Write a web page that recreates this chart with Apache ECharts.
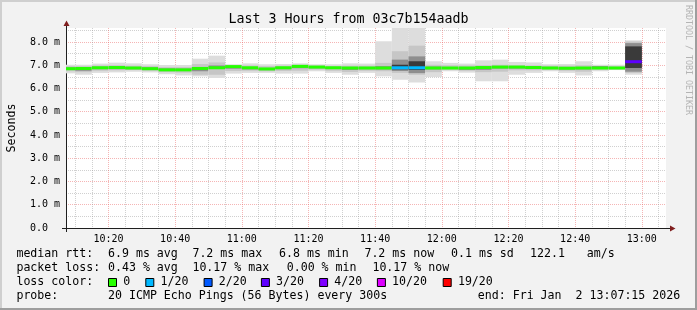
<!DOCTYPE html>
<html><head><meta charset="utf-8">
<script src="https://cdn.jsdelivr.net/npm/echarts@6/dist/echarts.min.js"></script>
<style>html,body{margin:0;padding:0;background:#f2f2f2}#c{width:697px;height:310px}</style>
</head><body><div id="c"></div>
<script>
// ---------------- data ----------------
const titleText = 'Last 3 Hours from 03c7b154aadb';
const yAxisName = 'Seconds';
const watermark = 'RRDTOOL / TOBI OETIKER';
const windowStart = '10:07:15';
const windowEnd = '13:07:15';
const stepMinutes = 5;

// end time of each 300 s RRD step
const barEnd = ['10:10','10:15','10:20','10:25','10:30','10:35','10:40','10:45','10:50','10:55',
  '11:00','11:05','11:10','11:15','11:20','11:25','11:30','11:35','11:40','11:45',
  '11:50','11:55','12:00','12:05','12:10','12:15','12:20','12:25','12:30','12:35',
  '12:40','12:45','12:50','12:55','13:00'];
// median rtt (ms)
const medianRtt = [6.85,6.86,6.89,6.90,6.88,6.85,6.80,6.80,6.86,6.89,
  6.94,6.89,6.84,6.89,6.95,6.92,6.89,6.88,6.88,6.88,
  6.89,6.89,6.88,6.88,6.88,6.90,6.92,6.92,6.90,6.88,
  6.87,6.88,6.88,6.88,7.15];
// lost pings per step -> index into lossColors
const lossIdx = [0,0,0,0,0,0,0,0,0,0, 0,0,0,0,0,0,0,0,0,0, 1,1,0,0,0,0,0,0,0,0, 0,0,0,0,3];
// smoke layers (ms), outermost = min/max ping
const smoke1Lo = [6.65,6.59,6.67,6.69,6.72,6.69,6.61,6.56,6.52,6.45, 6.64,6.67,6.67,6.64,6.64,6.74,6.67,6.59,6.67,6.52, 6.38,6.26,6.49,6.74,6.68,6.31,6.31,6.59,6.67,6.74, 6.67,6.56,6.74,6.79,6.59];
const smoke1Hi = [7.02,7.02,7.07,7.11,7.08,7.04,7.01,7.01,7.28,7.41, 7.04,7.08,7.04,7.05,7.08,7.04,7.04,7.08,7.07,8.03, 8.60,8.60,7.17,7.10,7.07,7.21,7.24,7.14,7.12,7.04, 7.05,7.17,7.02,7.02,8.07];
const smoke2Lo = [6.74,6.70,6.76,6.78,6.79,6.76,6.70,6.68,6.59,6.59, 6.75,6.76,6.74,6.75,6.76,6.81,6.76,6.71,6.76,6.74, 6.67,6.59,6.70,6.80,6.76,6.70,6.72,6.78,6.78,6.80, 6.76,6.72,6.80,6.82,6.67];
const smoke2Hi = [6.96,6.95,6.99,7.00,6.98,6.96,6.92,6.92,7.05,7.12, 7.00,6.99,6.96,6.98,7.02,6.99,6.97,6.98,6.98,7.10, 7.60,7.84,7.02,7.00,6.99,7.00,7.02,7.00,6.99,6.98, 6.98,7.00,6.97,6.96,8.02];
const smoke3Lo = [6.80,6.76,6.83,6.83,6.83,6.80,6.78,6.75,6.74,6.84, 6.85,6.82,6.79,6.83,6.87,6.87,6.84,6.80,6.83,6.82, 6.75,6.66,6.82,6.84,6.80,6.80,6.86,6.86,6.85,6.84, 6.82,6.82,6.86,6.85,6.72];
const smoke3Hi = [6.90,6.88,6.93,6.91,6.92,6.90,6.86,6.85,6.89,6.99, 6.96,6.91,6.88,6.92,7.01,6.95,6.92,6.89,6.92,6.96, 7.24,7.38,6.94,6.92,6.90,6.91,6.96,6.96,6.94,6.92, 6.90,6.92,6.96,6.92,7.95];
const smoke4Lo = [null,null,null,null,null,null,null,null,null,null, null,null,null,null,null,null,null,null,null,null, 6.82,6.80,null,null,null,null,null,null,null,null, null,null,null,null,6.88];
const smoke4Hi = [null,null,null,null,null,null,null,null,null,null, null,null,null,null,null,null,null,null,null,null, 7.02,7.17,null,null,null,null,null,null,null,null, null,null,null,null,7.81];

const xTickLabels = ['10:20','10:40','11:00','11:20','11:40','12:00','12:20','12:40','13:00'];
const xMinorTicks = ['10:10','10:15','10:25','10:30','10:35','10:45','10:50','10:55','11:05','11:10','11:15',
  '11:25','11:30','11:35','11:45','11:50','11:55','12:05','12:10','12:15','12:25','12:30','12:35',
  '12:45','12:50','12:55','13:05'];
const yTickValues = [0,1,2,3,4,5,6,7,8];
const yMinorValues = [0.5,1.5,2.5,3.5,4.5,5.5,6.5,7.5,8.5];
const yMax = 8.6;

const lossLabels = ['0','1/20','2/20','3/20','4/20','10/20','19/20'];
const lossColors = ['#26ff00','#00b8ff','#0059ff','#5e00ff','#7e00ff','#dd00ff','#ff0000'];

const rowRtt = ['median rtt:','6.9 ms avg','7.2 ms max','6.8 ms min','7.2 ms now','0.1 ms sd','122.1','am/s'];
const rowLoss = ['packet loss:','0.43 % avg','10.17 % max','0.00 % min','10.17 % now'];
const rowLossColorHead = 'loss color:';
const rowProbe = ['probe:','20 ICMP Echo Pings (56 Bytes) every 300s','end: Fri Jan  2 13:07:15 2026'];

// ---------------- layout (positions only) ----------------
const rowRttX = [16.4,108,192.4,279,364.4,451,530,586.7];
const rowLossX = [16.4,108,192.4,286.7,372.4];
const rowProbeX = [16.4,108,477.8];
const lossBoxX = [108,145.3,203.6,260.9,319.1,376.9,442.7];
const rowY = [254,268,282,296];
const MONO = '"DejaVu Sans Mono", monospace';

function toMin(s){const p=s.split(':').map(Number);return p[0]*60+p[1]+(p[2]||0)/60;}
function fmtMin(v){const h=Math.floor(v/60),m=Math.round(v-h*60);return h+':'+(m<10?'0':'')+m;}

const tStart = toMin(windowStart), tEnd = toMin(windowEnd);
const majorX = xTickLabels.map(toMin);
const minorX = xMinorTicks.map(toMin);

const data = barEnd.map((e,i)=>{
  const end = toMin(e);
  return [end-stepMinutes, end, smoke1Lo[i], smoke1Hi[i], smoke2Lo[i], smoke2Hi[i],
    smoke3Lo[i], smoke3Hi[i], smoke4Lo[i], smoke4Hi[i], medianRtt[i], lossIdx[i]];
});

const layerColors = ['#dddddd','#c6c6c6','#8e8e8e','#3a3a3a'];

function renderItem(params, api){
  const cs = params.coordSys;
  const box = {x:cs.x, y:cs.y, width:cs.width, height:cs.height};
  const s = api.value(0), e = api.value(1);
  const children = [];
  for (let k=0;k<4;k++){
    const lo = api.value(2+2*k), hi = api.value(3+2*k);
    if (lo==null || hi==null || isNaN(lo) || isNaN(hi)) continue;
    const p1 = api.coord([s,hi]), p2 = api.coord([e,lo]);
    const r = echarts.graphic.clipRectByRect({x:p1[0],y:p1[1],width:p2[0]-p1[0],height:p2[1]-p1[1]}, box);
    if (r) children.push({type:'rect', shape:r, style:{fill:layerColors[k]}});
  }
  const m1 = api.coord([s, api.value(10)]), m2 = api.coord([e, api.value(10)]);
  const mr = echarts.graphic.clipRectByRect({x:m1[0],y:m1[1]-1.5,width:m2[0]-m1[0],height:3}, box);
  if (mr) children.push({type:'rect', shape:mr, style:{fill:lossColors[api.value(11)]}});
  return {type:'group', children};
}

// ---------------- graphics (frame / arrows / legend) ----------------
const g = [];
g.push({type:'rect', shape:{x:0,y:0,width:697,height:2}, style:{fill:'#cfcfcf'}, silent:true});
g.push({type:'rect', shape:{x:0,y:0,width:2,height:310}, style:{fill:'#cfcfcf'}, silent:true});
g.push({type:'rect', shape:{x:695,y:0,width:2,height:310}, style:{fill:'#9e9e9e'}, silent:true});
g.push({type:'rect', shape:{x:0,y:308,width:697,height:2}, style:{fill:'#9e9e9e'}, silent:true});
g.push({type:'rect', shape:{x:62,y:228,width:4,height:1}, style:{fill:'#1f1f1f'}});
g.push({type:'rect', shape:{x:666,y:228,width:5,height:1}, style:{fill:'#1f1f1f'}});
g.push({type:'rect', shape:{x:66,y:228,width:1,height:4}, style:{fill:'#1f1f1f'}});
g.push({type:'rect', shape:{x:66,y:25,width:1,height:3}, style:{fill:'#1f1f1f'}});
g.push({type:'polygon', shape:{points:[[670,225.5],[670,231.5],[675.5,228.5]]}, style:{fill:'#801f1f'}});
g.push({type:'polygon', shape:{points:[[63.5,26],[69.5,26],[66.5,20.5]]}, style:{fill:'#801f1f'}});
g.push({type:'text', x:688.5, y:5, rotation:-Math.PI/2,
  style:{text:watermark, font:'8.3px '+MONO, fill:'#b4b4b4', align:'left', verticalAlign:'middle', textAlign:'left', textVerticalAlign:'middle'}});
function addText(t,x,y){
  g.push({type:'text', x:x, y:y, style:{text:t, font:'11.6px '+MONO, fill:'#000', align:'left', verticalAlign:'middle', textAlign:'left', textVerticalAlign:'middle'}});
}
rowRtt.forEach((t,i)=>addText(t,rowRttX[i],rowY[0]));
rowLoss.forEach((t,i)=>addText(t,rowLossX[i],rowY[1]));
addText(rowLossColorHead,16.4,rowY[2]);
lossLabels.forEach((t,i)=>{
  g.push({type:'rect', shape:{x:lossBoxX[i]+0.5,y:rowY[2]-3.5,width:8,height:8}, style:{fill:lossColors[i],stroke:'#000',lineWidth:1}});
  addText(t,lossBoxX[i]+15.2,rowY[2]);
});
rowProbe.forEach((t,i)=>addText(t,rowProbeX[i],rowY[3]));

const chart = echarts.init(document.getElementById('c'), null, {renderer:'canvas'});
chart.setOption({
  backgroundColor:'#f2f2f2',
  animation:false,
  title:{text:titleText, left:'center', top:12, padding:0,
    textStyle:{fontFamily:MONO, fontSize:13.3, fontWeight:'normal', color:'#000', lineHeight:15}},
  grid:{left:66, right:31, top:28, bottom:82, show:true, backgroundColor:'#ffffff', borderWidth:0,
    containLabel:false, outerBoundsMode:'none'},
  xAxis:[
    {type:'value', min:tStart, max:tEnd,
      axisLine:{show:true, lineStyle:{color:'#1f1f1f'}},
      axisTick:{show:false, customValues:majorX},
      axisLabel:{customValues:majorX, formatter:fmtMin, fontFamily:MONO, fontSize:10, color:'#000', margin:6},
      splitLine:{show:true, lineStyle:{color:'rgba(232,90,90,0.45)', type:[1,1], width:1}}},
    {type:'value', min:tStart, max:tEnd, position:'bottom',
      axisLine:{show:false}, axisTick:{show:false, customValues:minorX}, axisLabel:{show:false},
      splitLine:{show:true, lineStyle:{color:'rgba(150,150,150,0.45)', type:[1,1], width:1}}}
  ],
  yAxis:[
    {type:'value', min:0, max:yMax,
      name:yAxisName, nameLocation:'middle', nameGap:48,
      nameTextStyle:{fontFamily:MONO, fontSize:11.6, color:'#000'},
      axisLine:{show:true, lineStyle:{color:'#1f1f1f'}},
      axisTick:{show:false, customValues:yTickValues},
      axisLabel:{customValues:yTickValues, formatter:v=> v===0 ? '0.0  ' : v.toFixed(1)+' m',
        fontFamily:MONO, fontSize:10, color:'#000', margin:6},
      splitLine:{show:true, lineStyle:{color:'rgba(232,90,90,0.45)', type:[1,1], width:1}}},
    {type:'value', min:0, max:yMax, position:'left',
      axisLine:{show:false}, axisTick:{show:false, customValues:yMinorValues}, axisLabel:{show:false},
      splitLine:{show:true, lineStyle:{color:'rgba(150,150,150,0.45)', type:[1,1], width:1}}}
  ],
  series:[{type:'custom', xAxisIndex:0, yAxisIndex:0, renderItem, data,
    encode:{x:[0,1], y:[2,3]}, z:2}],
  graphic:g
});
</script></body></html>
